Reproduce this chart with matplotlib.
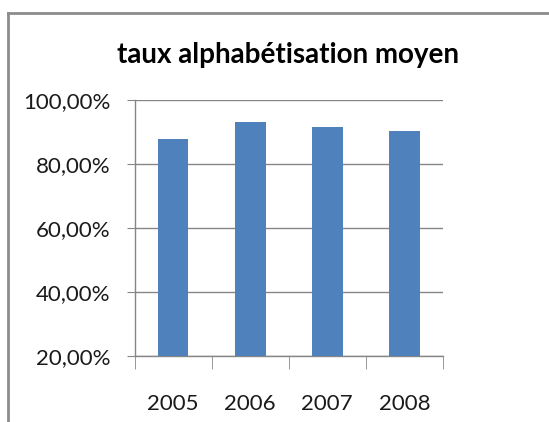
import numpy as np
import matplotlib
matplotlib.use("Agg")
import matplotlib.pyplot as plt
from matplotlib.ticker import FuncFormatter
from matplotlib.lines import Line2D

years = ['2005', '2006', '2007', '2008']
taux = [0.879, 0.932, 0.917, 0.904]
yticks = [0.2, 0.4, 0.6, 0.8, 1.0]

plt.rcParams['font.family'] = ['Lato', 'DejaVu Sans']

fig = plt.figure(figsize=(5.49, 4.22), dpi=100)
ax = fig.add_axes([134.5/549, 66/422, 308.5/549, 256/422])

x = np.arange(len(years))
ax.bar(x, taux, width=0.4, color='#4F81BD', zorder=3)

ax.set_ylim(0.2, 1.0)
ax.set_xlim(-0.5, len(years) - 0.5)
ax.set_yticks(yticks)
ax.yaxis.set_major_formatter(FuncFormatter(lambda v, p: f"{v*100:.2f}%".replace('.', ',')))
ax.set_xticks(x)
ax.set_xticklabels(years)
ax.set_xticks(np.arange(len(years) + 1) - 0.5, minor=True)

grey = '#868686'
ax.grid(axis='y', color=grey, linewidth=1, zorder=0)
for s in ['top', 'right']:
    ax.spines[s].set_visible(False)
for s in ['left', 'bottom']:
    ax.spines[s].set_color(grey)
    ax.spines[s].set_linewidth(1)

ax.tick_params(axis='y', length=6, color=grey, labelsize=16, pad=11.5, labelcolor='#1a1a1a')
ax.tick_params(axis='x', which='major', length=0, labelsize=16, pad=27, labelcolor='#1a1a1a')
ax.tick_params(axis='x', which='minor', length=9, color=grey)

fig.text(288/549, 1 - 63/422, 'taux alphabétisation moyen', ha='center', va='baseline',
         fontsize=20, fontweight='bold', color='black')

# outer frame (top and left edges)
fig.add_artist(Line2D([8/549, 1], [1 - 13/422, 1 - 13/422], color='#8c8c8c', linewidth=2))
fig.add_artist(Line2D([8/549, 8/549], [0, 1 - 13/422], color='#8c8c8c', linewidth=2))

fig.savefig('out.png', dpi=100)
